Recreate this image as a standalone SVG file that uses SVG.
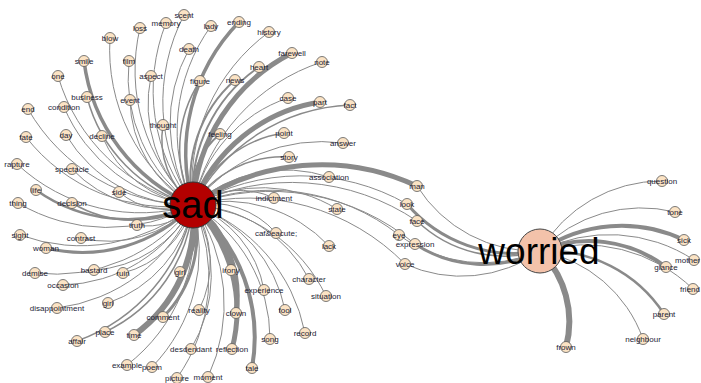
<svg xmlns="http://www.w3.org/2000/svg" width="701" height="383" viewBox="0 0 701 383">
<style>
.e{fill:none;stroke:#8a8a8a;stroke-width:1}
.n circle{fill:#fbe3c4;stroke:#5a5a5a;stroke-width:.8}
.n text{font-family:"Liberation Sans",Arial,sans-serif;font-size:8px;fill:#1d1d35;text-anchor:middle}
.hub text{font-family:"Liberation Sans",Arial,sans-serif;fill:#000;text-anchor:middle}
</style>
<rect width="701" height="383" fill="#fff"/>
<g id="connectors">
<path class="e" d="M193,205A186.5,186.5 0 0 1 110,38"/>
<path class="e" style="stroke-width:3.5" d="M193,205A180.6,180.6 0 0 1 84,61"/>
<path class="e" d="M193,205A157.6,157.6 0 0 1 129,61"/>
<path class="e" d="M193,205A186.7,186.7 0 0 1 58,76"/>
<path class="e" d="M193,205A135.7,135.7 0 0 1 151,76"/>
<path class="e" style="stroke-width:1.5" d="M193,205A151.3,151.3 0 0 1 87,97"/>
<path class="e" d="M193,205A122.4,122.4 0 0 1 130,100"/>
<path class="e" d="M193,205A162,162 0 0 1 64,107"/>
<path class="e" d="M193,205A190.9,190.9 0 0 1 28,109"/>
<path class="e" d="M193,205A184.8,184.8 0 0 1 140,28"/>
<path class="e" d="M193,205A184,184 0 0 1 166,23"/>
<path class="e" style="stroke-width:1.5" d="M193,205A85.4,85.4 0 0 1 163,125"/>
<path class="e" d="M193,205A190.2,190.2 0 0 1 184,15"/>
<path class="e" d="M193,205A179.9,179.9 0 0 1 211,26"/>
<path class="e" style="stroke-width:3.5" d="M193,205A188.7,188.7 0 0 1 239,22"/>
<path class="e" d="M193,205A189,189 0 0 1 269,32"/>
<path class="e" d="M193,205A156.1,156.1 0 0 1 189,49"/>
<path class="e" style="stroke-width:5" d="M193,205A181.4,181.4 0 0 1 292,53"/>
<path class="e" d="M193,205A192.6,192.6 0 0 1 322,62"/>
<path class="e" style="stroke-width:2" d="M193,205A153,153 0 0 1 259,67"/>
<path class="e" style="stroke-width:1.5" d="M193,205A124.2,124.2 0 0 1 200,81"/>
<path class="e" style="stroke-width:2" d="M193,205A131.9,131.9 0 0 1 235,80"/>
<path class="e" d="M193,205A143.1,143.1 0 0 1 288,98"/>
<path class="e" style="stroke-width:5" d="M193,205A163.5,163.5 0 0 1 320,102"/>
<path class="e" style="stroke-width:1.5" d="M193,205A186.1,186.1 0 0 1 350,105"/>
<path class="e" d="M193,205A180.3,180.3 0 0 1 26,137"/>
<path class="e" d="M193,205A145,145 0 0 1 66,135"/>
<path class="e" d="M193,205A114.2,114.2 0 0 1 102,136"/>
<path class="e" style="stroke-width:2" d="M193,205A76,76 0 0 1 220,134"/>
<path class="e" style="stroke-width:1.5" d="M193,205A116,116 0 0 1 284,133"/>
<path class="e" d="M193,205A162.3,162.3 0 0 1 343,143"/>
<path class="e" style="stroke-width:1.5" d="M193,205A107.3,107.3 0 0 1 289,157"/>
<path class="e" d="M193,205A138.9,138.9 0 0 1 329,177"/>
<path class="e" d="M193,205A81.3,81.3 0 0 1 274,198"/>
<path class="e" d="M193,205A144.1,144.1 0 0 1 337,209"/>
<path class="e" d="M193,205A87.6,87.6 0 0 1 276,233"/>
<path class="e" d="M193,205A142,142 0 0 1 329,246"/>
<path class="e" d="M193,205A180.7,180.7 0 0 1 17,164"/>
<path class="e" d="M193,205A126.2,126.2 0 0 1 72,169"/>
<path class="e" style="stroke-width:2.5" d="M193,205A157.7,157.7 0 0 1 36,190"/>
<path class="e" d="M193,205A75.1,75.1 0 0 1 119,192"/>
<path class="e" d="M193,205A175,175 0 0 1 18,203"/>
<path class="e" style="stroke-width:1.5" d="M193,205A121,121 0 0 1 72,203"/>
<path class="e" d="M193,205A59.5,59.5 0 0 1 137,225"/>
<path class="e" d="M193,205A175.6,175.6 0 0 1 20,235"/>
<path class="e" d="M193,205A116.8,116.8 0 0 1 81,238"/>
<path class="e" style="stroke-width:3" d="M193,205A153.2,153.2 0 0 1 46,248"/>
<path class="e" d="M193,205A172,172 0 0 1 35,273"/>
<path class="e" d="M193,205A118.4,118.4 0 0 1 94,270"/>
<path class="e" d="M193,205A97.6,97.6 0 0 1 123,273"/>
<path class="e" d="M193,205A152.6,152.6 0 0 1 63,285"/>
<path class="e" d="M193,205A129.7,129.7 0 0 1 108,303"/>
<path class="e" style="stroke-width:2" d="M193,205A68.2,68.2 0 0 1 180,272"/>
<path class="e" d="M193,205A170.6,170.6 0 0 1 57,308"/>
<path class="e" style="stroke-width:3" d="M193,205A116,116 0 0 1 163,317"/>
<path class="e" style="stroke-width:1.5" d="M193,205A154.5,154.5 0 0 1 105,332"/>
<path class="e" style="stroke-width:6" d="M193,205A142.8,142.8 0 0 1 134,335"/>
<path class="e" style="stroke-width:1.5" d="M193,205A178.8,178.8 0 0 1 77,341"/>
<path class="e" d="M193,205A173.1,173.1 0 0 1 127,365"/>
<path class="e" d="M193,205A167.1,167.1 0 0 1 152,367"/>
<path class="e" style="stroke-width:2" d="M193,205A75.3,75.3 0 0 1 231,270"/>
<path class="e" d="M193,205A137.6,137.6 0 0 1 309,279"/>
<path class="e" d="M193,205A110.8,110.8 0 0 1 264,290"/>
<path class="e" d="M193,205A161.2,161.2 0 0 1 326,296"/>
<path class="e" d="M193,205A105.2,105.2 0 0 1 199,310"/>
<path class="e" style="stroke-width:5" d="M193,205A116.2,116.2 0 0 1 236,313"/>
<path class="e" d="M193,205A139.6,139.6 0 0 1 285,310"/>
<path class="e" d="M193,205A170.1,170.1 0 0 1 305,333"/>
<path class="e" d="M193,205A154.5,154.5 0 0 1 270,339"/>
<path class="e" d="M193,205A144,144 0 0 1 191,349"/>
<path class="e" style="stroke-width:5" d="M193,205A149.2,149.2 0 0 1 232,349"/>
<path class="e" style="stroke-width:4" d="M193,205A173.4,173.4 0 0 1 252,368"/>
<path class="e" d="M193,205A172.7,172.7 0 0 1 208,377"/>
<path class="e" d="M193,205A173.7,173.7 0 0 1 177,378"/>
<path class="e" style="stroke-width:5" d="M193,205A224.8,224.8 0 0 1 417,186"/>
<path class="e" d="M193,205A214,214 0 0 1 407,204"/>
<path class="e" d="M193,205A224.6,224.6 0 0 1 417,221"/>
<path class="e" d="M193,205A208.2,208.2 0 0 1 399,235"/>
<path class="e" d="M193,205A225.4,225.4 0 0 1 415,244"/>
<path class="e" d="M193,205A220.1,220.1 0 0 1 405,264"/>
<path class="e" d="M540,251A140.7,140.7 0 0 1 662,181"/>
<path class="e" d="M540,251A140.5,140.5 0 0 1 675,212"/>
<path class="e" style="stroke-width:4" d="M540,251A144.4,144.4 0 0 1 684,240"/>
<path class="e" d="M540,251A154.3,154.3 0 0 1 694,260"/>
<path class="e" style="stroke-width:4" d="M540,251A127,127 0 0 1 666,267"/>
<path class="e" d="M540,251A157.6,157.6 0 0 1 693,289"/>
<path class="e" style="stroke-width:2.5" d="M540,251A139.1,139.1 0 0 1 664,314"/>
<path class="e" d="M540,251A135.5,135.5 0 0 1 643,339"/>
<path class="e" style="stroke-width:6" d="M540,251A99.5,99.5 0 0 1 566,347"/>
<path class="e" d="M540,251A139.1,139.1 0 0 1 417,186"/>
<path class="e" style="stroke-width:3" d="M540,251A141.1,141.1 0 0 1 407,204"/>
<path class="e" style="stroke-width:1.5" d="M540,251A126.6,126.6 0 0 1 417,221"/>
<path class="e" d="M540,251A141.9,141.9 0 0 1 399,235"/>
<path class="e" style="stroke-width:3" d="M540,251A125.2,125.2 0 0 1 415,244"/>
<path class="e" d="M540,251A135.6,135.6 0 0 1 405,264"/>
</g>
<g id="node-sad" class="hub"><circle cx="193" cy="205" r="23" fill="#b30000" stroke="#333" stroke-width="1"/><text x="193" y="218" font-size="38">sad</text></g>
<g id="node-worried" class="hub"><circle cx="540" cy="251" r="22" fill="#f3c2aa" stroke="#444" stroke-width="1"/><text x="539" y="264" font-size="37">worried</text></g>
<g id="node-blow" class="n"><circle cx="110" cy="38" r="5.5"/><text x="110" y="41">blow</text></g>
<g id="node-smile" class="n"><circle cx="84" cy="61" r="5.5"/><text x="84" y="64">smile</text></g>
<g id="node-film" class="n"><circle cx="129" cy="61" r="5.5"/><text x="129" y="64">film</text></g>
<g id="node-one" class="n"><circle cx="58" cy="76" r="5.5"/><text x="58" y="79">one</text></g>
<g id="node-aspect" class="n"><circle cx="151" cy="76" r="5.5"/><text x="151" y="79">aspect</text></g>
<g id="node-business" class="n"><circle cx="87" cy="97" r="5.5"/><text x="87" y="100">business</text></g>
<g id="node-event" class="n"><circle cx="130" cy="100" r="5.5"/><text x="130" y="103">event</text></g>
<g id="node-condition" class="n"><circle cx="64" cy="107" r="5.5"/><text x="64" y="110">condition</text></g>
<g id="node-end" class="n"><circle cx="28" cy="109" r="5.5"/><text x="28" y="112">end</text></g>
<g id="node-loss" class="n"><circle cx="140" cy="28" r="5.5"/><text x="140" y="31">loss</text></g>
<g id="node-memory" class="n"><circle cx="166" cy="23" r="5.5"/><text x="166" y="26">memory</text></g>
<g id="node-thought" class="n"><circle cx="163" cy="125" r="5.5"/><text x="163" y="128">thought</text></g>
<g id="node-scent" class="n"><circle cx="184" cy="15" r="5.5"/><text x="184" y="18">scent</text></g>
<g id="node-lady" class="n"><circle cx="211" cy="26" r="5.5"/><text x="211" y="29">lady</text></g>
<g id="node-ending" class="n"><circle cx="239" cy="22" r="5.5"/><text x="239" y="25">ending</text></g>
<g id="node-history" class="n"><circle cx="269" cy="32" r="5.5"/><text x="269" y="35">history</text></g>
<g id="node-death" class="n"><circle cx="189" cy="49" r="5.5"/><text x="189" y="52">death</text></g>
<g id="node-farewell" class="n"><circle cx="292" cy="53" r="5.5"/><text x="292" y="56">farewell</text></g>
<g id="node-note" class="n"><circle cx="322" cy="62" r="5.5"/><text x="322" y="65">note</text></g>
<g id="node-heart" class="n"><circle cx="259" cy="67" r="5.5"/><text x="259" y="70">heart</text></g>
<g id="node-figure" class="n"><circle cx="200" cy="81" r="5.5"/><text x="200" y="84">figure</text></g>
<g id="node-news" class="n"><circle cx="235" cy="80" r="5.5"/><text x="235" y="83">news</text></g>
<g id="node-case" class="n"><circle cx="288" cy="98" r="5.5"/><text x="288" y="101">case</text></g>
<g id="node-part" class="n"><circle cx="320" cy="102" r="5.5"/><text x="320" y="105">part</text></g>
<g id="node-fact" class="n"><circle cx="350" cy="105" r="5.5"/><text x="350" y="108">fact</text></g>
<g id="node-fate" class="n"><circle cx="26" cy="137" r="5.5"/><text x="26" y="140">fate</text></g>
<g id="node-day" class="n"><circle cx="66" cy="135" r="5.5"/><text x="66" y="138">day</text></g>
<g id="node-decline" class="n"><circle cx="102" cy="136" r="5.5"/><text x="102" y="139">decline</text></g>
<g id="node-feeling" class="n"><circle cx="220" cy="134" r="5.5"/><text x="220" y="137">feeling</text></g>
<g id="node-point" class="n"><circle cx="284" cy="133" r="5.5"/><text x="284" y="136">point</text></g>
<g id="node-answer" class="n"><circle cx="343" cy="143" r="5.5"/><text x="343" y="146">answer</text></g>
<g id="node-story" class="n"><circle cx="289" cy="157" r="5.5"/><text x="289" y="160">story</text></g>
<g id="node-association" class="n"><circle cx="329" cy="177" r="5.5"/><text x="329" y="180">association</text></g>
<g id="node-indictment" class="n"><circle cx="274" cy="198" r="5.5"/><text x="274" y="201">indictment</text></g>
<g id="node-state" class="n"><circle cx="337" cy="209" r="5.5"/><text x="337" y="212">state</text></g>
<g id="node-cafe" class="n"><circle cx="276" cy="233" r="5.5"/><text x="276" y="236">caf&amp;eacute;</text></g>
<g id="node-lack" class="n"><circle cx="329" cy="246" r="5.5"/><text x="329" y="249">lack</text></g>
<g id="node-rapture" class="n"><circle cx="17" cy="164" r="5.5"/><text x="17" y="167">rapture</text></g>
<g id="node-spectacle" class="n"><circle cx="72" cy="169" r="5.5"/><text x="72" y="172">spectacle</text></g>
<g id="node-life" class="n"><circle cx="36" cy="190" r="5.5"/><text x="36" y="193">life</text></g>
<g id="node-side" class="n"><circle cx="119" cy="192" r="5.5"/><text x="119" y="195">side</text></g>
<g id="node-thing" class="n"><circle cx="18" cy="203" r="5.5"/><text x="18" y="206">thing</text></g>
<g id="node-decision" class="n"><circle cx="72" cy="203" r="5.5"/><text x="72" y="206">decision</text></g>
<g id="node-truth" class="n"><circle cx="137" cy="225" r="5.5"/><text x="137" y="228">truth</text></g>
<g id="node-sight" class="n"><circle cx="20" cy="235" r="5.5"/><text x="20" y="238">sight</text></g>
<g id="node-contrast" class="n"><circle cx="81" cy="238" r="5.5"/><text x="81" y="241">contrast</text></g>
<g id="node-woman" class="n"><circle cx="46" cy="248" r="5.5"/><text x="46" y="251">woman</text></g>
<g id="node-demise" class="n"><circle cx="35" cy="273" r="5.5"/><text x="35" y="276">demise</text></g>
<g id="node-bastard" class="n"><circle cx="94" cy="270" r="5.5"/><text x="94" y="273">bastard</text></g>
<g id="node-ruin" class="n"><circle cx="123" cy="273" r="5.5"/><text x="123" y="276">ruin</text></g>
<g id="node-occasion" class="n"><circle cx="63" cy="285" r="5.5"/><text x="63" y="288">occasion</text></g>
<g id="node-girl" class="n"><circle cx="108" cy="303" r="5.5"/><text x="108" y="306">girl</text></g>
<g id="node-girl-2" class="n"><circle cx="180" cy="272" r="5.5"/><text x="180" y="275">girl</text></g>
<g id="node-disappointment" class="n"><circle cx="57" cy="308" r="5.5"/><text x="57" y="311">disappointment</text></g>
<g id="node-comment" class="n"><circle cx="163" cy="317" r="5.5"/><text x="163" y="320">comment</text></g>
<g id="node-place" class="n"><circle cx="105" cy="332" r="5.5"/><text x="105" y="335">place</text></g>
<g id="node-time" class="n"><circle cx="134" cy="335" r="5.5"/><text x="134" y="338">time</text></g>
<g id="node-affair" class="n"><circle cx="77" cy="341" r="5.5"/><text x="77" y="344">affair</text></g>
<g id="node-example" class="n"><circle cx="127" cy="365" r="5.5"/><text x="127" y="368">example</text></g>
<g id="node-poem" class="n"><circle cx="152" cy="367" r="5.5"/><text x="152" y="370">poem</text></g>
<g id="node-irony" class="n"><circle cx="231" cy="270" r="5.5"/><text x="231" y="273">irony</text></g>
<g id="node-character" class="n"><circle cx="309" cy="279" r="5.5"/><text x="309" y="282">character</text></g>
<g id="node-experience" class="n"><circle cx="264" cy="290" r="5.5"/><text x="264" y="293">experience</text></g>
<g id="node-situation" class="n"><circle cx="326" cy="296" r="5.5"/><text x="326" y="299">situation</text></g>
<g id="node-reality" class="n"><circle cx="199" cy="310" r="5.5"/><text x="199" y="313">reality</text></g>
<g id="node-clown" class="n"><circle cx="236" cy="313" r="5.5"/><text x="236" y="316">clown</text></g>
<g id="node-fool" class="n"><circle cx="285" cy="310" r="5.5"/><text x="285" y="313">fool</text></g>
<g id="node-record" class="n"><circle cx="305" cy="333" r="5.5"/><text x="305" y="336">record</text></g>
<g id="node-song" class="n"><circle cx="270" cy="339" r="5.5"/><text x="270" y="342">song</text></g>
<g id="node-desdendant" class="n"><circle cx="191" cy="349" r="5.5"/><text x="191" y="352">desdendant</text></g>
<g id="node-reflection" class="n"><circle cx="232" cy="349" r="5.5"/><text x="232" y="352">reflection</text></g>
<g id="node-tale" class="n"><circle cx="252" cy="368" r="5.5"/><text x="252" y="371">tale</text></g>
<g id="node-moment" class="n"><circle cx="208" cy="377" r="5.5"/><text x="208" y="380">moment</text></g>
<g id="node-picture" class="n"><circle cx="177" cy="378" r="5.5"/><text x="177" y="381">picture</text></g>
<g id="node-man" class="n"><circle cx="417" cy="186" r="5.5"/><text x="417" y="189">man</text></g>
<g id="node-look" class="n"><circle cx="407" cy="204" r="5.5"/><text x="407" y="207">look</text></g>
<g id="node-face" class="n"><circle cx="417" cy="221" r="5.5"/><text x="417" y="224">face</text></g>
<g id="node-eye" class="n"><circle cx="399" cy="235" r="5.5"/><text x="399" y="238">eye</text></g>
<g id="node-expression" class="n"><circle cx="415" cy="244" r="5.5"/><text x="415" y="247">expression</text></g>
<g id="node-voice" class="n"><circle cx="405" cy="264" r="5.5"/><text x="405" y="267">voice</text></g>
<g id="node-question" class="n"><circle cx="662" cy="181" r="5.5"/><text x="662" y="184">question</text></g>
<g id="node-tone" class="n"><circle cx="675" cy="212" r="5.5"/><text x="675" y="215">tone</text></g>
<g id="node-sick" class="n"><circle cx="684" cy="240" r="5.5"/><text x="684" y="243">sick</text></g>
<g id="node-mother" class="n"><circle cx="694" cy="260" r="5.5"/><text x="700" y="263" style="text-anchor:end">mother</text></g>
<g id="node-glance" class="n"><circle cx="666" cy="267" r="5.5"/><text x="666" y="270">glance</text></g>
<g id="node-friend" class="n"><circle cx="693" cy="289" r="5.5"/><text x="700" y="292" style="text-anchor:end">friend</text></g>
<g id="node-parent" class="n"><circle cx="664" cy="314" r="5.5"/><text x="664" y="317">parent</text></g>
<g id="node-neighbour" class="n"><circle cx="643" cy="339" r="5.5"/><text x="643" y="342">neighbour</text></g>
<g id="node-frown" class="n"><circle cx="566" cy="347" r="5.5"/><text x="566" y="350">frown</text></g>
</svg>
